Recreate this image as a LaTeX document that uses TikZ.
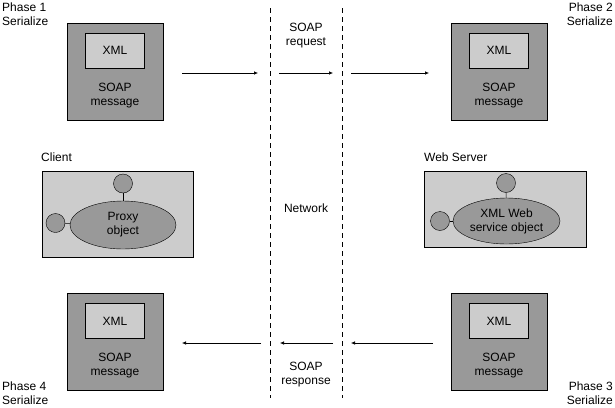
\documentclass[tikz,border=0pt]{standalone}
\usepackage{fontspec}
\setmainfont{Liberation Sans}
\usetikzlibrary{arrows.meta,shapes.geometric}
\definecolor{dk}{HTML}{999999}
\definecolor{lt}{HTML}{CCCCCC}
\begin{document}
\begin{tikzpicture}[x=1pt,y=-1pt,
  txt/.style={font=\fontsize{12}{14}\selectfont, inner sep=0pt, align=center},
  msgbox/.style={draw=black, fill=dk, minimum width=96pt, minimum height=97pt, inner sep=0pt},
  xmlbox/.style={draw=black, fill=lt, minimum width=59pt, minimum height=35pt, inner sep=0pt, font=\fontsize{12}{14}\selectfont},
  hostbox/.style={draw=black, fill=lt, inner sep=0pt},
  obj/.style={ellipse, draw=black, fill=dk, inner sep=0pt, align=center, font=\fontsize{12}{14}\selectfont},
  port/.style={circle, draw=black, fill=dk, minimum size=19pt, inner sep=0pt},
  flow/.style={-{Latex[length=4pt,width=3.5pt]}, line width=0.6pt},
  net/.style={dashed, dash pattern=on 5pt off 4pt, line width=0.6pt}]
\useasboundingbox[fill=white] (0,0) rectangle (615,407);

% network boundaries
\coordinate (n1t) at (270,8); \coordinate (n1b) at (270,398);
\coordinate (n2t) at (342,8); \coordinate (n2b) at (342,398);
\draw[net] (n1t) -- (n1b);
\draw[net] (n2t) -- (n2b);

% message boxes
\node[msgbox] (m1) at (115,71.5) {};
\node[msgbox] (m2) at (499,71.5) {};
\node[msgbox] (m3) at (499,342) {};
\node[msgbox] (m4) at (115,342) {};
\foreach \m in {1,2,3,4}{
  \node[xmlbox] (x\m) at ([yshift=21pt]m\m.center) {XML};
  \node[txt] (s\m) at ([yshift=-24pt]m\m.center) {SOAP\\message};
}

% phase labels
\node[txt, anchor=north west, align=left] (p1) at (2,3) {Phase 1\\Serialize};
\node[txt, anchor=north east, align=right] (p2) at (613,3) {Phase 2\\Serialize};
\node[txt, anchor=south east, align=right] (p3) at (613,405) {Phase 3\\Serialize};
\node[txt, anchor=south west, align=left] (p4) at (2,405) {Phase 4\\Serialize};

% network labels
\node[txt] (req) at (306,36) {SOAP\\request};
\node[txt] (net) at (306,208) {Network};
\node[txt] (resp) at (306,375) {SOAP\\response};

% client
\node[hostbox, minimum width=151pt, minimum height=86pt] (cl) at (117.5,214) {};
\node[txt, anchor=south west] (cll) at (41,162) {Client};
\node[obj, minimum width=106pt, minimum height=48pt] (po) at (123,225) {Proxy\\object};
\node[port] (pc1) at (123,183.5) {};
\node[port] (pc2) at (55.5,223) {};
\draw (pc1) -- (po);
\draw (pc2) -- (po);

% web server
\node[hostbox, minimum width=162pt, minimum height=76pt] (ws) at (505,209) {};
\node[txt, anchor=south west] (wsl) at (424,162) {Web Server};
\node[obj, minimum width=107pt, minimum height=46pt] (so) at (506.5,221) {XML Web\\service object};
\node[port] (sc1) at (506,183) {};
\node[port] (sc2) at (440,221) {};
\draw (sc1) -- (so);
\draw (sc2) -- (so);

% request arrows
\coordinate (a1s) at (182,73); \coordinate (a1e) at (258,73);
\coordinate (a2s) at (279,73); \coordinate (a2e) at (333,73);
\coordinate (a3s) at (351,73); \coordinate (a3e) at (429,73);
\draw[flow] (a1s) -- (a1e);
\draw[flow] (a2s) -- (a2e);
\draw[flow] (a3s) -- (a3e);

% response arrows
\coordinate (b1s) at (433,343); \coordinate (b1e) at (351,343);
\coordinate (b2s) at (333,343); \coordinate (b2e) at (280,343);
\coordinate (b3s) at (261,343); \coordinate (b3e) at (182,343);
\draw[flow] (b1s) -- (b1e);
\draw[flow] (b2s) -- (b2e);
\draw[flow] (b3s) -- (b3e);
\end{tikzpicture}
\end{document}
